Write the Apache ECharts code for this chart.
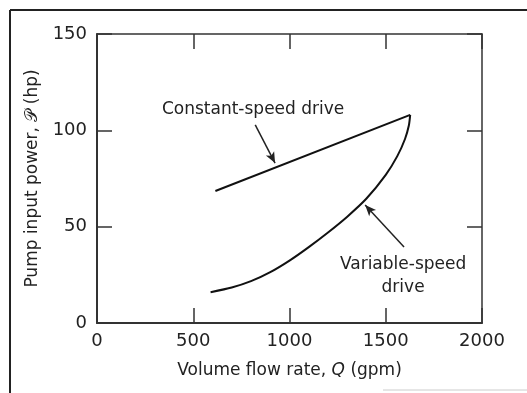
<!DOCTYPE html>
<html>
<head>
<meta charset="utf-8">
<script src="https://cdn.jsdelivr.net/npm/echarts@6/dist/echarts.min.js"></script>
<style>
html,body{margin:0;padding:0;background:#fff;}
#c{width:527px;height:393px;}
</style>
</head>
<body>
<div id="c"></div>
<script>
// Data
var constantQ = [615, 1627];
var constantP = [68.5, 108];
var variableQ = [590, 700, 800, 900, 1000, 1100, 1200, 1300, 1400, 1500, 1560, 1600, 1620, 1627];
var variableP = [16.0, 18.4, 21.7, 26.4, 32.4, 39.4, 47.0, 55.2, 64.6, 76.9, 86.6, 95.5, 102.5, 108];
var xTicks = [0, 500, 1000, 1500, 2000];
var yTicks = [0, 50, 100, 150];
var constantLabel = 'Constant-speed drive';
var variableLabel = 'Variable-speed\ndrive';
var constantLabelAt = [811, 110.6];
var variableLabelAt = [1590, 24.2];
var constantArrow = [[822, 102.8], [925, 83.0]];
var variableArrow = [[1595, 39.4], [1393, 61.2]];

function pairs(xs, ys){ return xs.map(function(x,i){ return [x, ys[i]]; }); }

var FONT = 'DejaVu Sans';
var AX = '#333';
var TXT = '#222';
var plainNum = function(v){ return String(v); };
var tickStyle = {show:true, inside:true, length:15, lineStyle:{color:AX, width:1.5}};
var chart = echarts.init(document.getElementById('c'), null, {renderer:'canvas'});
var option = {
  backgroundColor:'#fff',
  animation:false,
  grid:{left:97, right:45, top:34, bottom:70, show:false},
  xAxis:[{
    type:'value', min:xTicks[0], max:xTicks[xTicks.length-1], interval:500, position:'bottom',
    name:'{n|Volume flow rate, }{i|Q}{n| (gpm)}', nameLocation:'middle', nameGap:39,
    nameTextStyle:{fontFamily:FONT, fontSize:17, color:TXT,
      rich:{n:{fontFamily:FONT, fontSize:17, color:TXT}, i:{fontFamily:FONT, fontSize:17, color:TXT, fontStyle:'italic'}}},
    axisLine:{show:true, onZero:false, lineStyle:{color:AX, width:2}},
    axisTick:tickStyle,
    axisLabel:{fontFamily:FONT, fontSize:18, color:TXT, margin:9, formatter:plainNum},
    splitLine:{show:false}
  }, {
    type:'value', min:xTicks[0], max:xTicks[xTicks.length-1], interval:500, position:'top',
    axisLine:{show:true, onZero:false, lineStyle:{color:AX, width:1.5}},
    axisTick:tickStyle,
    axisLabel:{show:false}, splitLine:{show:false}
  }],
  yAxis:[{
    type:'value', min:yTicks[0], max:yTicks[yTicks.length-1], interval:50, position:'left',
    name:'Pump input power, \u{1D4AB} (hp)', nameLocation:'middle', nameGap:56,
    nameTextStyle:{fontFamily:FONT, fontSize:17, color:TXT},
    axisLine:{show:true, onZero:false, lineStyle:{color:AX, width:2}},
    axisTick:tickStyle,
    axisLabel:{fontFamily:FONT, fontSize:18, color:TXT, margin:10, formatter:plainNum},
    splitLine:{show:false}
  }, {
    type:'value', min:yTicks[0], max:yTicks[yTicks.length-1], interval:50, position:'right',
    axisLine:{show:true, onZero:false, lineStyle:{color:AX, width:1.5}},
    axisTick:tickStyle,
    axisLabel:{show:false}, splitLine:{show:false}
  }],
  series:[
    {
      type:'line', data:pairs(constantQ, constantP), symbol:'none',
      lineStyle:{color:'#111', width:2},
      markPoint:{
        symbol:'circle', symbolSize:0,
        label:{show:true, position:'inside', fontFamily:FONT, fontSize:17, color:TXT, lineHeight:23},
        data:[
          {coord:constantLabelAt, label:{formatter:constantLabel}},
          {coord:variableLabelAt, label:{formatter:variableLabel, align:'center'}}
        ]
      },
      markLine:{
        silent:true, symbol:['none','arrow'], symbolSize:[7,11],
        lineStyle:{color:'#222', width:1.5, type:'solid'},
        label:{show:false},
        data:[
          [{coord:constantArrow[0]},{coord:constantArrow[1]}],
          [{coord:variableArrow[0]},{coord:variableArrow[1]}]
        ]
      }
    },
    {
      type:'line', data:pairs(variableQ, variableP), symbol:'none', smooth:0.25,
      lineStyle:{color:'#111', width:2}
    }
  ],
  graphic:[
    {type:'line', shape:{x1:10, y1:10, x2:527, y2:10}, style:{stroke:'#222', lineWidth:2}},
    {type:'line', shape:{x1:10, y1:10, x2:10, y2:393}, style:{stroke:'#222', lineWidth:2}},
    {type:'line', shape:{x1:383, y1:390, x2:527, y2:390}, style:{stroke:'#ccc', lineWidth:1}}
  ]
};
chart.setOption(option);
</script>
</body>
</html>
